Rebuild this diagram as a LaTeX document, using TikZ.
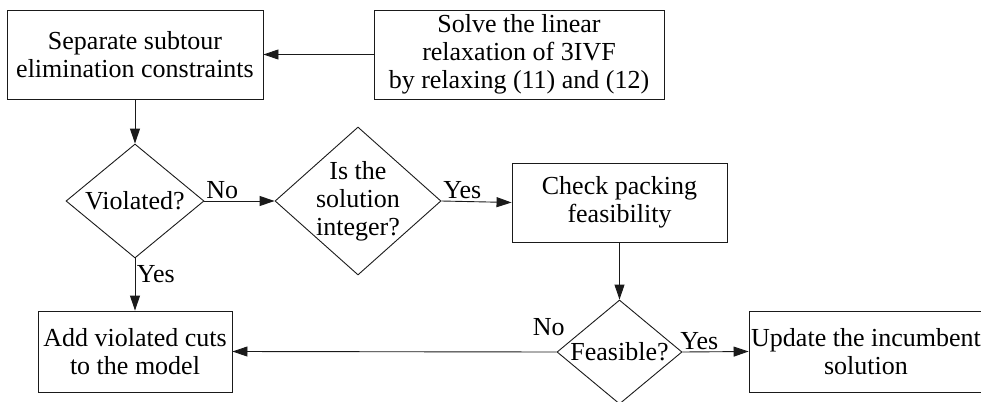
\documentclass[tikz,border=0pt]{standalone}
\usepackage{fontspec}
\setmainfont{Liberation Serif}
\usetikzlibrary{shapes.geometric,arrows.meta}
\definecolor{ink}{HTML}{1A1A1A}
\tikzset{
  txt/.style={text=black, font=\fontsize{26}{28}\selectfont},
  proc/.style={txt, draw=ink, line width=0.9pt, align=center, inner sep=0pt},
  dec/.style={txt, draw=ink, diamond, line width=0.9pt, align=center, inner sep=-1pt},
  flow/.style={draw=ink, line width=0.9pt, -{Triangle[length=15pt,width=10pt]}},
  lab/.style={txt, inner sep=1.5pt},
}

\begin{document}
\begin{tikzpicture}[x=1pt,y=-1pt]
  \useasboundingbox (0,0) rectangle (981,401);

  % boxes and decisions
  \node[proc, minimum width=256pt, minimum height=89pt] (sep) at (135,54.5)
    {Separate subtour\\elimination constraints};
  \node[proc, minimum width=290pt, minimum height=89pt] (solve) at (519,54.5)
    {Solve the linear\\relaxation of 3IVF\\by relaxing (11) and (12)};
  \node[dec, aspect=1.21, minimum width=138pt, minimum height=114pt] (viol) at (135,201)
    {Violated?};
  \node[dec, aspect=1.12, inner sep=-8pt, minimum width=166pt, minimum height=148pt] (integ)
    at (358,201) {Is the\\solution\\integer?};
  \node[proc, minimum width=215pt, minimum height=79pt] (check) at (619.5,202.5)
    {Check packing\\feasibility};
  \node[dec, aspect=1.2, minimum width=125pt, minimum height=104pt] (feas) at (619.5,352)
    {Feasible?};
  \node[proc, minimum width=194pt, minimum height=81pt] (add) at (135,351.5)
    {Add violated cuts\\to the model};
  \node[proc, minimum width=234pt, minimum height=81pt] (upd) at (866,351.5)
    {Update the incumbent\\solution};

  % connectors
  \draw[flow] (solve.west) -- (sep.east);
  \draw[flow] (sep.south) -- (viol.north);
  \draw[flow] (viol.east) -- node[lab, pos=0, anchor=south west] (violno) {No} (integ.west);
  \draw[flow] (viol.south) -- node[lab, pos=0.1, anchor=north west] (violyes) {Yes} (add.north);
  \draw[flow] (integ.east) -- node[lab, pos=0, anchor=south west] (integyes) {Yes} (check.west);
  \draw[flow] (check.south) -- (feas.north);
  \draw[flow] (feas.east) -- node[lab, pos=0, anchor=south west, xshift=-4pt] (feasyes) {Yes} (upd.west);
  \draw[flow] (feas.west) -- node[lab, pos=0, anchor=south east, xshift=10pt, yshift=14pt] (feasno) {No} (add.east);
\end{tikzpicture}
\end{document}
